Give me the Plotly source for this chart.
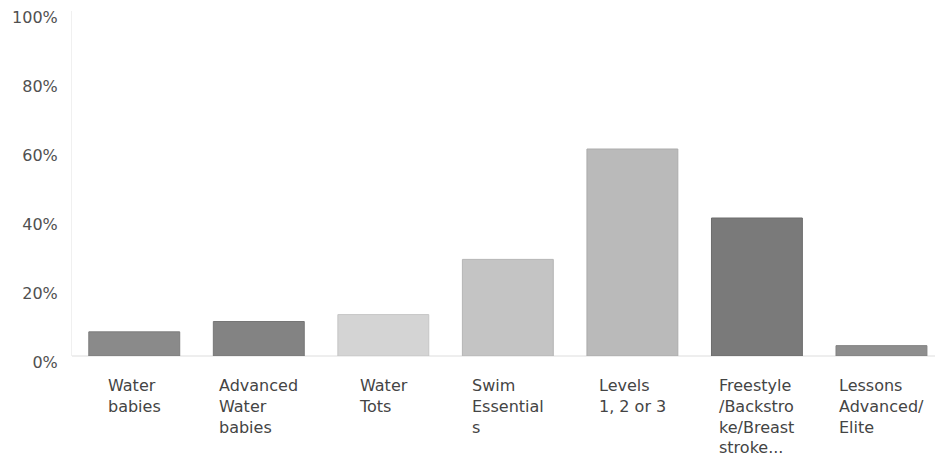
import plotly.graph_objects as go

# Lesson categories, as wrapped label lines
categories = [
    "Water babies",
    "Advanced Water babies",
    "Water Tots",
    "Swim Essentials",
    "Levels 1, 2 or 3",
    "Freestyle/Backstroke/Breaststroke...",
    "Lessons Advanced/Elite",
]
label_lines = [
    ["Water", "babies"],
    ["Advanced", "Water", "babies"],
    ["Water", "Tots"],
    ["Swim", "Essential", "s"],
    ["Levels", "1, 2 or 3"],
    ["Freestyle", "/Backstro", "ke/Breast", "stroke..."],
    ["Lessons", "Advanced/", "Elite"],
]
# Share of respondents per category
shares = [0.07, 0.10, 0.12, 0.28, 0.60, 0.40, 0.03]
bar_colors = ["#8a8a8a", "#838383", "#d4d4d4", "#c4c4c4", "#bababa", "#7a7a7a", "#8e8e8e"]
line_colors = ["#7c7c7c", "#767676", "#c6c6c6", "#b6b6b6", "#acacac", "#6c6c6c", "#808080"]

y_ticks = [0, 0.2, 0.4, 0.6, 0.8, 1.0]

font_family = "DejaVu Sans"

fig = go.Figure(
    go.Bar(
        x=list(range(len(categories))),
        y=shares,
        marker=dict(color=bar_colors, line=dict(color=line_colors, width=1)),
        hovertext=categories,
        width=0.73,
    )
)

for i, lines in enumerate(label_lines):
    fig.add_annotation(
        x=i,
        y=0,
        xref="x",
        yref="paper",
        yshift=-18,
        text="<br>".join(lines),
        showarrow=False,
        xanchor="center",
        yanchor="top",
        align="left",
        font=dict(family=font_family, size=16, color="#444444"),
    )

fig.update_layout(
    width=935,
    height=472,
    margin=dict(l=72, r=0, t=11, b=116),
    paper_bgcolor="white",
    plot_bgcolor="white",
    showlegend=False,
    font=dict(family=font_family, size=16, color="#555555"),
)
fig.update_xaxes(
    range=[-0.5, 6.43],
    showticklabels=False,
    showgrid=False,
    zeroline=False,
    showline=False,
    ticks="",
)
fig.update_yaxes(
    range=[0, 1],
    tickvals=y_ticks,
    tickformat=".0%",
    showgrid=False,
    zeroline=True,
    zerolinecolor="#eeeeee",
    zerolinewidth=2,
    showline=True,
    linecolor="#f0f0f0",
    linewidth=1,
    ticks="",
    ticklabelstandoff=10,
    ticklabelshift=6,
    tickfont=dict(family=font_family, size=16, color="#505050"),
)

fig.write_html("out.html")
